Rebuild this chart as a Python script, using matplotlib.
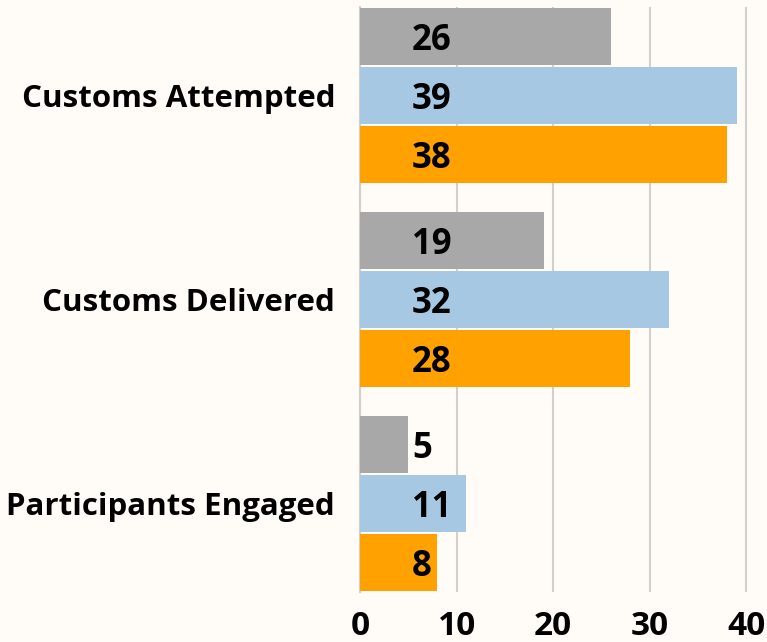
import matplotlib
matplotlib.use("Agg")
import matplotlib.pyplot as plt
import numpy as np

# Data
categories = ["Customs Attempted", "Customs Delivered", "Participants Engaged"]
series_gray = [26, 19, 5]
series_blue = [39, 32, 11]
series_orange = [38, 28, 8]
xticks = [0, 10, 20, 30, 40]

colors = ["#A8A8A8", "#A6C8E2", "#FFA100"]
bg = "#FFFBF6"

plt.rcParams["font.family"] = ["Open Sans", "DejaVu Sans"]

fig = plt.figure(figsize=(7.67, 6.42), dpi=100, facecolor=bg)
ax = fig.add_axes([360 / 767, 1 - 592 / 642, 406 / 767, 585 / 642])
ax.set_facecolor(bg)

y = np.arange(len(categories))
step = 0.2885
h = 0.279
for i, (vals, c) in enumerate(zip([series_gray, series_blue, series_orange], colors)):
    pos = y + (i - 1) * step
    ax.barh(pos, vals, height=h, color=c, zorder=3)
    for p, v in zip(pos, vals):
        ax.text(5.4, p, str(v), ha="left", va="center_baseline", fontsize=25,
                fontweight="bold", color="black", zorder=4)

ax.set_xlim(0, 406 / 9.66)
ax.set_ylim(2.4328, -0.4328)
ax.set_yticks(y)
ax.set_yticklabels(categories, fontsize=22.5, fontweight="bold")
ax.set_xticks(xticks)
ax.set_xticklabels([str(t) for t in xticks], fontsize=24, fontweight="bold")
ax.tick_params(axis="y", length=0, pad=18)
ax.tick_params(axis="x", length=0, pad=13)

ax.grid(axis="x", color="#D3D0CC", linewidth=1.5, zorder=0)
for s in ["top", "right", "bottom"]:
    ax.spines[s].set_visible(False)
ax.spines["left"].set_color("#D3D0CC")
ax.spines["left"].set_linewidth(1.5)

fig.savefig("out.png", dpi=100, facecolor=bg)
